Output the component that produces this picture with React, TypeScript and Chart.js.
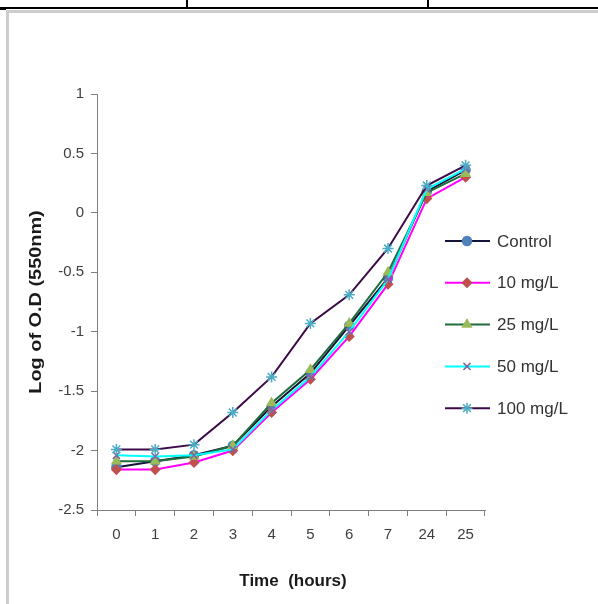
import React, { useEffect, useRef } from "react";
import { Chart, registerables } from "chart.js";
import { drawPoint } from "chart.js/helpers";

Chart.register(...registerables);

const hours = ["0", "1", "2", "3", "4", "5", "6", "7", "24", "25"];
const control = [-2.14, -2.09, -2.04, -1.96, -1.63, -1.35, -0.95, -0.55, 0.18, 0.36];
const mg10 = [-2.16, -2.16, -2.10, -2.0, -1.68, -1.4, -1.04, -0.6, 0.12, 0.3];
const mg25 = [-2.09, -2.09, -2.05, -1.96, -1.6, -1.32, -0.93, -0.5, 0.17, 0.33];
const mg50 = [-2.04, -2.05, -2.04, -1.99, -1.66, -1.38, -1.0, -0.56, 0.2, 0.37];
const mg100 = [-1.99, -1.99, -1.95, -1.68, -1.38, -0.93, -0.69, -0.3, 0.23, 0.4];
const seriesNames = ["Control", "10 mg/L", "25 mg/L", "50 mg/L", "100 mg/L"];
const xTitle = "Time  (hours)";
const yTitle = "Log of O.D (550nm)";

const FONT = "'Liberation Sans', Arial, sans-serif";

const styles = [
  { line: "#141438", marker: "#4F81BD", point: "circle", r: 4.5 },
  { line: "#FF00FF", marker: "#C0504D", point: "rectRot", r: 4.5 },
  { line: "#1E6B3C", marker: "#9BBB59", point: "triangle", r: 5 },
  { line: "#00FFFF", marker: "#8064A2", point: "crossRot", r: 5 },
  { line: "#3C0A46", marker: "#4BACC6", point: "star", r: 5.5 },
];

const decorPlugin = {
  id: "decor",
  afterDraw(chart: any) {
    const ctx = chart.ctx as CanvasRenderingContext2D;
    ctx.save();
    ctx.fillStyle = "#1a1a1a";
    ctx.font = `bold 17px ${FONT}`;
    ctx.textAlign = "center";
    ctx.textBaseline = "middle";
    ctx.fillText(xTitle, 293, 581);
    ctx.save();
    ctx.translate(36, 302);
    ctx.rotate(-Math.PI / 2);
    ctx.scale(1.17, 1);
    ctx.fillText(yTitle, 0, 0);
    ctx.restore();
    const ds = chart.data.datasets;
    ctx.font = `17px ${FONT}`;
    ctx.textAlign = "left";
    ds.forEach((d: any, i: number) => {
      const y = 241 + i * 41.8;
      ctx.strokeStyle = d.borderColor;
      ctx.lineWidth = 2;
      ctx.beginPath();
      ctx.moveTo(445, y);
      ctx.lineTo(490, y);
      ctx.stroke();
      ctx.fillStyle = d.pointBackgroundColor;
      ctx.strokeStyle = d.pointBorderColor;
      ctx.lineWidth = 1.5;
      drawPoint(ctx, { pointStyle: d.pointStyle, radius: d.pointRadius, rotation: 0, borderWidth: 1.5 } as any, 467, y);
      ctx.fillStyle = "#333333";
      ctx.fillText(d.label, 497, y + 1);
    });
    ctx.restore();
  },
};

export default function App() {
  const ref = useRef<HTMLCanvasElement | null>(null);
  useEffect(() => {
    if (!ref.current) return;
    const seriesData = [control, mg10, mg25, mg50, mg100];
    const chart = new Chart(ref.current, {
      type: "line",
      data: {
        labels: hours,
        datasets: seriesData.map((vals, i) => ({
          label: seriesNames[i],
          data: vals,
          borderColor: styles[i].line,
          borderWidth: 2,
          pointStyle: styles[i].point as any,
          pointRadius: styles[i].r,
          pointBackgroundColor: styles[i].marker,
          pointBorderColor: styles[i].marker,
          pointBorderWidth: 1.5,
          tension: 0,
          fill: false,
          order: 4 - i,
        })),
      },
      options: {
        responsive: false,
        animation: false,
        devicePixelRatio: 1,
        layout: { padding: { left: 0, top: 94, right: 113, bottom: 0 } },
        plugins: { legend: { display: false }, tooltip: { enabled: false }, title: { display: false } },
        scales: {
          x: {
            type: "category",
            offset: true,
            grid: { offset: true, drawOnChartArea: false, drawTicks: true, tickLength: 6, color: "#7f7f7f" },
            border: { display: true, color: "#7f7f7f", width: 1 },
            ticks: { color: "#404040", font: { family: FONT, size: 15 }, padding: 10, maxRotation: 0, autoSkip: false },
            afterFit: (s: any) => {
              s.height = 94;
            },
          },
          y: {
            min: -2.5,
            max: 1,
            grid: { drawOnChartArea: false, drawTicks: true, tickLength: 6, color: "#7f7f7f" },
            border: { display: true, color: "#7f7f7f", width: 1 },
            ticks: {
              stepSize: 0.5,
              color: "#404040",
              font: { family: FONT, size: 15 },
              padding: 7,
              callback: (v: any) => String(Math.round(Number(v) * 10) / 10),
            },
            afterFit: (s: any) => {
              s.width = 97;
            },
          },
        },
      },
      plugins: [decorPlugin],
    });
    return () => chart.destroy();
  }, []);
  return (
    <div style={{ position: "fixed", left: 0, top: 0, width: 598, height: 604, background: "#fff", overflow: "hidden" }}>
      <canvas ref={ref} width={598} height={604} style={{ position: "absolute", left: 0, top: 0, width: 598, height: 604 }} />
      <div style={{ position: "absolute", left: 0, top: 7, width: 598, height: 2, background: "#000" }} />
      <div style={{ position: "absolute", left: 186, top: 0, width: 2, height: 8, background: "#000" }} />
      <div style={{ position: "absolute", left: 427, top: 0, width: 2, height: 8, background: "#000" }} />
      <div style={{ position: "absolute", left: 0, top: 9, width: 6, height: 1, background: "#000" }} />
      <div style={{ position: "absolute", left: 6, top: 10, width: 592, height: 3, background: "#cdcdcd" }} />
      <div style={{ position: "absolute", left: 6, top: 10, width: 3, height: 594, background: "#cdcdcd" }} />
    </div>
  );
}
